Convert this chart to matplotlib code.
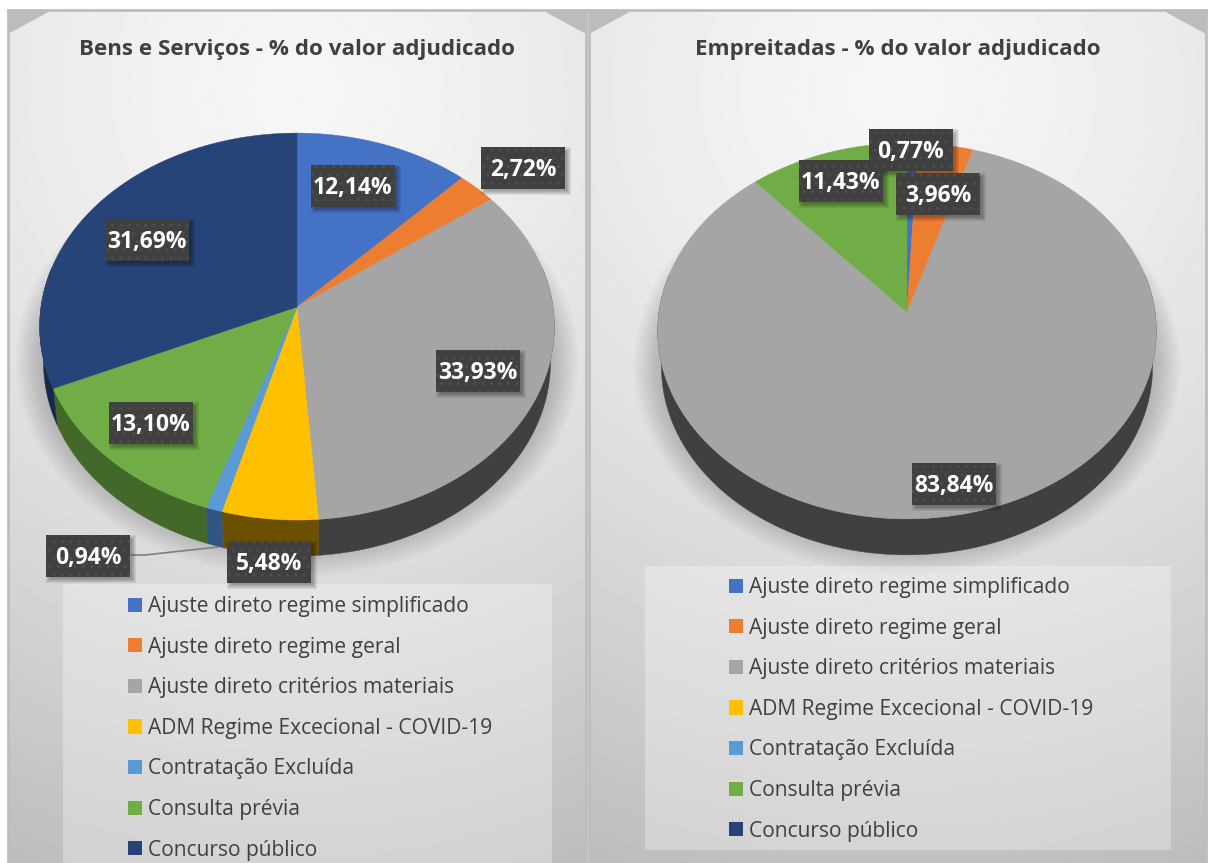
import numpy as np
import matplotlib
matplotlib.use("Agg")
import matplotlib.pyplot as plt
from matplotlib.patches import Patch, Rectangle

categories = ["Ajuste direto regime simplificado", "Ajuste direto regime geral",
              "Ajuste direto critérios materiais", "ADM Regime Excecional - COVID-19",
              "Contratação Excluída", "Consulta prévia", "Concurso público"]
bens_values = [12.14, 2.72, 33.93, 5.48, 0.94, 13.10, 31.69]
empreitadas_values = [0.77, 3.96, 83.84, 0.0, 0.0, 11.43, 0.0]
titles = ["Bens e Serviços - % do valor adjudicado", "Empreitadas - % do valor adjudicado"]
colors = ["#4472C4", "#ED7D31", "#A5A5A5", "#FFC000", "#5B9BD5", "#70AD47", "#264478"]
wall_colors = ["#2A4578", "#8F4B1D", "#404040", "#6B5000", "#2F5580", "#42692A", "#16294A"]

W, H = 1216, 863
plt.rcParams["font.family"] = ["Open Sans", "DejaVu Sans"]
plt.rcParams["hatch.linewidth"] = 0.8
fig = plt.figure(figsize=(W / 100, H / 100), dpi=100, facecolor="white")


def make_axes(x0, x1, y0):
    ax = fig.add_axes([x0 / W, 0, (x1 - x0) / W, (H - y0) / H])
    yy, xx = np.mgrid[y0:H:300j, x0:x1:300j]
    cx = (x0 + x1) / 2
    r = np.sqrt(((xx - cx) / (x1 - x0)) ** 2 * 0.5 + ((yy - 90) / 850) ** 2)
    g = np.clip(0.965 - 0.235 * r ** 1.45, 0, 1)
    ax.imshow(g, extent=(x0, x1, H, y0), cmap="gray", vmin=0, vmax=1, aspect="auto",
              interpolation="bilinear", zorder=0)
    ax.set_xlim(x0, x1)
    ax.set_ylim(H, y0)
    ax.set_xticks([])
    ax.set_yticks([])
    for name, s in ax.spines.items():
        s.set_color("#bdbdbd")
        s.set_linewidth(2)
    ax.spines["bottom"].set_visible(False)
    cut = "#bcbcbc"
    ax.fill([x0, x0, x0 + 44], [y0 + 24, y0, y0], color=cut, lw=0, zorder=1)
    ax.fill([x1, x1, x1 - 44], [y0 + 24, y0, y0], color=cut, lw=0, zorder=1)
    return ax


def project(theta, cx, cy, rx, ry, k=0.101, depth=0.0, f=1.0):
    u, v = np.sin(theta), np.cos(theta)
    w = 1 + k * v
    return cx + f * rx * u / w, cy - ry * v / w + depth


def draw_pie(ax, values, cx, cy, rx, ry, depth):
    full = np.linspace(0, 2 * np.pi, 360)
    for i in range(14):
        gx, gy = project(full, cx, cy, rx + 24 - 2.2 * i, ry + 22 - 2.2 * i, depth=depth - 4)
        ax.fill(gx, gy, color="black", alpha=0.016, lw=0, zorder=2)
    edges = np.cumsum([0] + list(values)) / sum(values) * 2 * np.pi
    lo, hi = np.radians(78), np.radians(282)
    for i, val in enumerate(values):
        if val <= 0:
            continue
        a0, a1 = max(edges[i], lo), min(edges[i + 1], hi)
        if a1 > a0:
            t = np.linspace(a0, a1, 120)
            xa, ya = project(t, cx, cy, rx, ry)
            xb, yb = project(t[::-1], cx, cy, rx, ry, depth=depth, f=0.985)
            ax.fill(np.r_[xa, xb], np.r_[ya, yb], color=wall_colors[i], lw=0.3, zorder=3)
    for i, val in enumerate(values):
        if val <= 0:
            continue
        t = np.linspace(edges[i], edges[i + 1], 200)
        xa, ya = project(t, cx, cy, rx, ry)
        ax.fill(np.r_[cx, xa], np.r_[cy, ya], color=colors[i], lw=0.3, zorder=4)


def draw_labels(ax, values, positions):
    for val, pos in zip(values, positions):
        if val <= 0:
            continue
        ax.text(pos[0], pos[1] + 2, f"{val:.2f}%".replace(".", ","), color="white", fontsize=16.5,
                fontweight="bold", ha="center", va="center", zorder=8)
        x0, y0 = pos[0] - 42, pos[1] - 21
        for j in range(5):
            grow = 3 - j
            ax.add_patch(Rectangle((x0 + 3 - grow, y0 + 3 - grow), 84 + 2 * grow, 42 + 2 * grow,
                                   facecolor="black", alpha=0.07, lw=0, zorder=6.8))
        ax.add_patch(Rectangle((x0, y0), 84, 42, facecolor="#404040", edgecolor="#505050",
                               hatch="..", lw=0, zorder=7))


def draw_legend(ax, x0, x1, y0, y1, anchor):
    ax.add_patch(Rectangle((x0, y0), x1 - x0, y1 - y0, facecolor="white", alpha=0.3, lw=0, zorder=5))
    handles = [Patch(facecolor=c, edgecolor="none") for c in colors]
    leg = ax.legend(handles, categories, loc="upper left", bbox_to_anchor=anchor,
                    bbox_transform=ax.transData, frameon=False, fontsize=15.1, labelcolor="#404040",
                    handlelength=0.67, handleheight=0.67, handletextpad=0.29, labelspacing=0.935,
                    borderpad=0, borderaxespad=0)
    leg.set_zorder(6)


ax1 = make_axes(8, 586, 10)
draw_pie(ax1, bens_values, 297, 307, 256, 191.5, 36)
ax1.plot([132, 145, 218], [555, 555, 547], color="#7f7f7f", lw=1.2, zorder=6.5)
draw_legend(ax1, 63, 552, 584, 863, (128, 596))
draw_labels(ax1, bens_values, [(353, 186), (523, 168), (478, 371), (269, 562), (88, 556), (151, 423), (147, 240)])
ax1.set_title(titles[0], fontsize=16.1, fontweight="bold", color="#404040", y=0.9475, pad=0)

ax2 = make_axes(589, 1206, 10)
draw_pie(ax2, empreitadas_values, 907, 312, 248, 186, 36)
draw_legend(ax2, 645, 1171, 566, 850, (729, 577))
draw_labels(ax2, empreitadas_values, [(911, 150), (938, 194), (954, 484), (0, 0), (0, 0), (841, 181), (0, 0)])
ax2.set_title(titles[1], fontsize=16.1, fontweight="bold", color="#404040", y=0.9475, pad=0)

fig.savefig("out.png", dpi=100, facecolor="white")
